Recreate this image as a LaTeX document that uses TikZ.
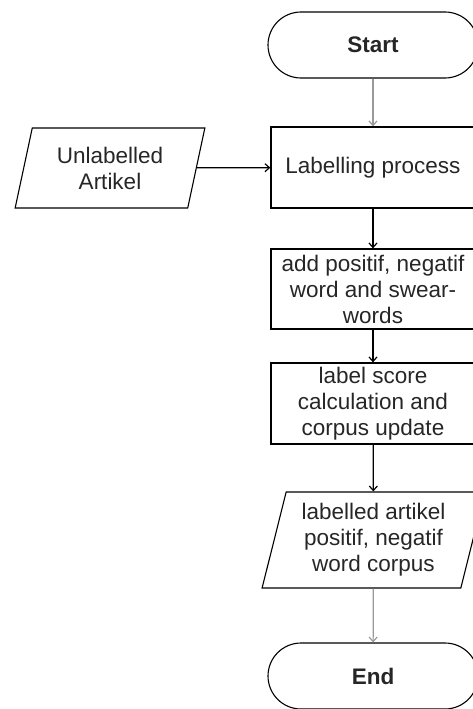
\documentclass[tikz,border=0pt]{standalone}
\usepackage{fontspec}
\setmainfont{Liberation Sans}
\usepackage{tikz}
\usetikzlibrary{arrows.meta}
\usetikzlibrary{shapes,positioning,calc}

\begin{document}
\begin{tikzpicture}[x=1pt, y=-1pt,
	every node/.style={font=\fontsize{22.5}{26}\selectfont, text=black!85, align=center, inner sep=1pt},
	terminal/.style={draw, line width=1.1pt, rectangle, rounded corners=33pt, minimum width=210pt, minimum height=66pt},
	procbox/.style={draw, line width=1.3pt, rectangle, minimum width=204pt, minimum height=81pt},
	iobox/.style={draw, line width=1.1pt, trapezium, trapezium left angle=75, trapezium right angle=105, trapezium stretches=true},
	flow/.style={line width=1.2pt, -{Straight Barb[length=4.5pt,width=8pt]}}]
			\useasboundingbox (0,0) rectangle (472,709);
			% main column
			\node[terminal] (start) at (373,45) {\textbf{Start}};
			\node[procbox] (label) at (373,167.5) {Labelling process};
			\node[procbox, minimum height=80pt] (addword) at (373,289) {add positif, negatif\\word and swear-\\words};
			\node[procbox] (score) at (373,403.5) {label score\\calculation and\\corpus update};
			\node[iobox, minimum width=223pt, minimum height=96pt] (result) at (373.5,540) {labelled artikel\\positif, negatif\\word corpus};
			\node[terminal] (end) at (373,676) {\textbf{End}};
			% input
			\node[iobox, minimum width=190pt, minimum height=80pt] (input) at (110,168) {Unlabelled\\Artikel};
			\draw[flow, draw=gray!80] (start) -- (label);
			\draw[flow] (input) -- (label);
			\draw[flow] (label) -- (addword);
			\draw[flow] (addword) -- (score);
			\draw[flow] (score) -- (result);
			\draw[flow, draw=gray!80] (result) -- (end);
		\end{tikzpicture}
\end{document}
